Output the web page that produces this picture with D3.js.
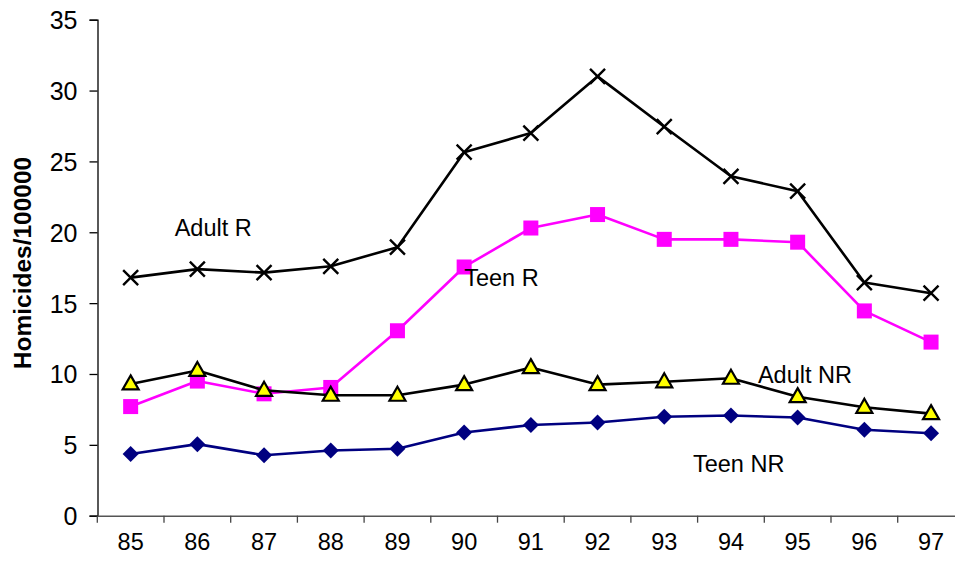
<!DOCTYPE html>
<html>
<head>
<meta charset="utf-8">
<script src="https://cdn.jsdelivr.net/npm/d3@7"></script>
<style>
  body { margin: 0; background: #fff; }
  svg { display: block; font-family: Arial, "Liberation Sans", sans-serif; }
</style>
</head>
<body>
<div id="chart"></div>
<script>
const years = ["85", "86", "87", "88", "89", "90", "91", "92", "93", "94", "95", "96", "97"]
const adultR = [16.8, 17.4, 17.15, 17.6, 18.95, 25.65, 27.0, 31.0, 27.45, 23.95, 22.9, 16.45, 15.7]
const teenR = [7.7, 9.5, 8.6, 9.05, 13.05, 17.55, 20.3, 21.25, 19.5, 19.5, 19.3, 14.45, 12.25]
const adultNR = [9.3, 10.25, 8.85, 8.5, 8.5, 9.25, 10.45, 9.25, 9.45, 9.7, 8.4, 7.65, 7.2]
const teenNR = [4.35, 5.05, 4.27, 4.6, 4.72, 5.87, 6.4, 6.58, 6.98, 7.07, 6.93, 6.06, 5.82]
const yTicks = [0, 5, 10, 15, 20, 25, 30, 35]
const labelNames = ["Adult R", "Teen R", "Adult NR", "Teen NR"]
const labelYears = ["85", "90", "94", "94"]
const labelValues = [19.76, 16.23, 9.34, 3.1]

var width = 955
var height = 562

const svg = d3.select("#chart")
    .append("svg")
    .attr("width", width)
    .attr("height", height)

const x = d3.scaleBand()
    .domain(years)
    .range([97.3, 964.4])
    .padding(0)
const y = d3.scaleLinear()
    .domain([0, 35])
    .range([515.7, 19.7])
const cx = d => x(d) + x.bandwidth() / 2

// y axis
const yAxis = svg.append("g")
    .attr("transform", "translate(97.5,0)")
    .call(d3.axisLeft(y).tickValues(yTicks).tickSize(8).tickPadding(12))
yAxis.select(".domain").attr("stroke", "#000").attr("stroke-width", 1.3)
yAxis.selectAll(".tick line").attr("stroke", "#000").attr("stroke-width", 1.3)
yAxis.selectAll(".tick text")
    .attr("font-size", "25px")
    .attr("fill", "#000")
    .attr("dy", "0.36em")
    .style("font-family", "Arial, 'Liberation Sans', sans-serif")

// x axis: labels at centres, ticks between categories
const xAxis = svg.append("g")
    .attr("transform", "translate(0," + y(0) + ")")
    .call(d3.axisBottom(x).tickSize(0).tickPadding(18))
xAxis.select(".domain").attr("stroke", "#555").attr("stroke-width", 1.5)
xAxis.selectAll(".tick text")
    .attr("font-size", "23.5px")
    .attr("fill", "#000")
    .attr("dy", "0.71em")
    .style("font-family", "Arial, 'Liberation Sans', sans-serif")
const bounds = years.map(d => x(d)).concat([x(years[years.length - 1]) + x.bandwidth()])
xAxis.selectAll("line.sep")
    .data(bounds)
    .enter()
    .append("line")
    .attr("class", "sep")
    .attr("x1", d => d)
    .attr("x2", d => d)
    .attr("y1", 0)
    .attr("y2", 7)
    .attr("stroke", "#444")
    .attr("stroke-width", 1.3)

// y axis title
svg.append("text")
    .attr("transform", "translate(31,263) rotate(-90)")
    .attr("text-anchor", "middle")
    .attr("font-size", "24.5px")
    .attr("font-weight", "bold")
    .text("Homicides/100000")

const line = d3.line()
    .x((d, i) => cx(years[i]))
    .y(d => y(d))

function drawLine(values, color) {
    svg.append("path")
        .datum(values)
        .attr("d", line)
        .attr("fill", "none")
        .attr("stroke", color)
        .attr("stroke-width", 2.6)
        .attr("stroke-linejoin", "round")
}

// Adult R: black with X markers
drawLine(adultR, "#000")
adultR.forEach((v, i) => {
    const px = cx(years[i]), py = y(v), s = 7.5
    svg.append("path")
        .attr("d", "M" + (px - s) + "," + (py - s) + "L" + (px + s) + "," + (py + s) +
            "M" + (px - s) + "," + (py + s) + "L" + (px + s) + "," + (py - s))
        .attr("stroke", "#000")
        .attr("stroke-width", 2.4)
})

// Teen R: magenta with squares
drawLine(teenR, "#ff00ff")
svg.selectAll("rect.teenR")
    .data(teenR)
    .enter()
    .append("rect")
    .attr("class", "teenR")
    .attr("x", (d, i) => cx(years[i]) - 7.5)
    .attr("y", d => y(d) - 7.5)
    .attr("width", 15)
    .attr("height", 15)
    .attr("fill", "#ff00ff")

// Adult NR: black with yellow triangles
drawLine(adultNR, "#000")
svg.selectAll("path.adultNR")
    .data(adultNR)
    .enter()
    .append("path")
    .attr("class", "adultNR")
    .attr("d", (d, i) => {
        const px = cx(years[i]), py = y(d)
        return "M" + px + "," + (py - 8.5) + "L" + (px + 8) + "," + (py + 5.5) + "L" + (px - 8) + "," + (py + 5.5) + "Z"
    })
    .attr("fill", "#ffff00")
    .attr("stroke", "#000")
    .attr("stroke-width", 2.2)
    .attr("stroke-linejoin", "miter")

// Teen NR: navy with diamonds
drawLine(teenNR, "#000080")
svg.selectAll("path.teenNR")
    .data(teenNR)
    .enter()
    .append("path")
    .attr("class", "teenNR")
    .attr("d", (d, i) => {
        const px = cx(years[i]), py = y(d), s = 8
        return "M" + px + "," + (py - s) + "L" + (px + s) + "," + py + "L" + px + "," + (py + s) + "L" + (px - s) + "," + py + "Z"
    })
    .attr("fill", "#000080")

// series labels, nudged off their anchor year
const labelDx = [44, 0, 27, -38]
svg.selectAll("text.series")
    .data(labelNames)
    .enter()
    .append("text")
    .attr("class", "series")
    .attr("x", (d, i) => cx(labelYears[i]) + labelDx[i])
    .attr("y", (d, i) => y(labelValues[i]))
    .attr("font-size", "23.5px")
    .attr("fill", "#000")
    .text(d => d)
</script>
</body>
</html>
